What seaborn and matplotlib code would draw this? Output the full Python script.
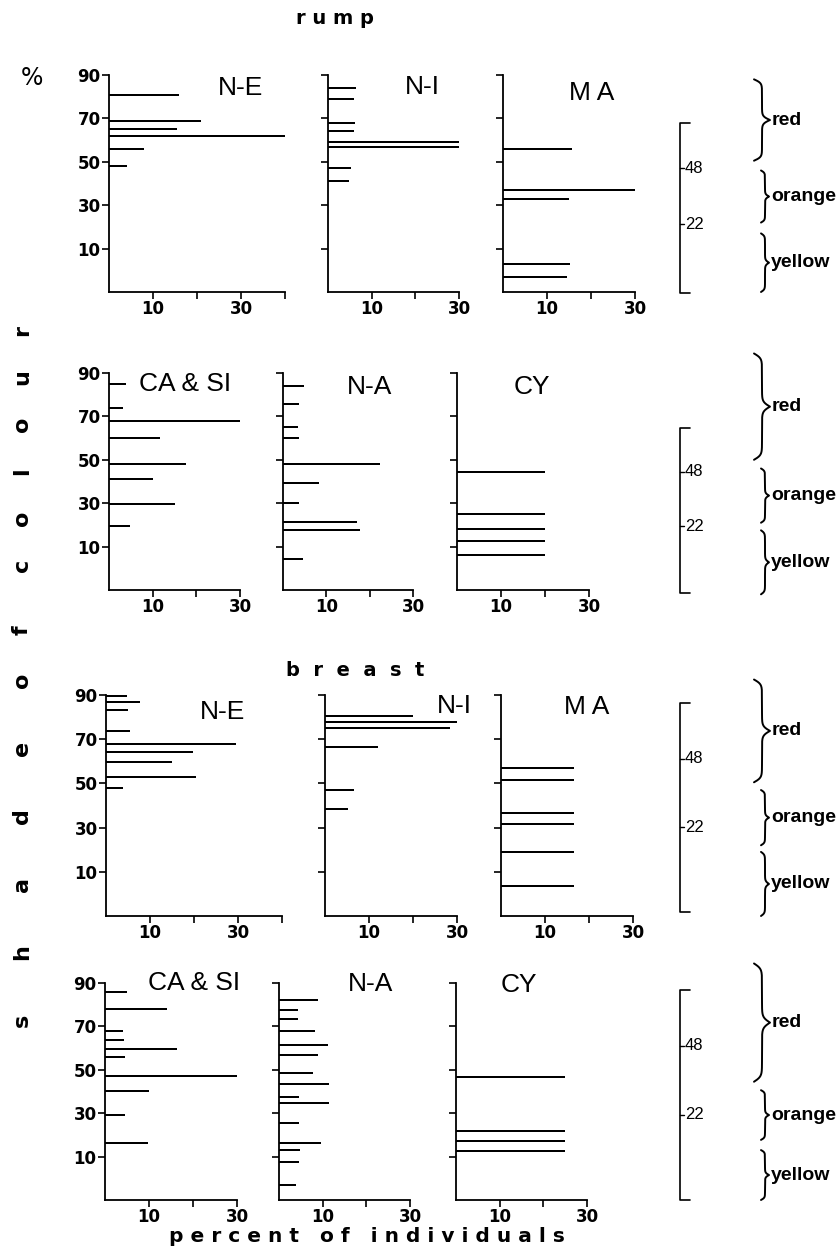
import numpy as np
import pandas as pd
import matplotlib
matplotlib.use("Agg")
import matplotlib.pyplot as plt
import seaborn as sns

# ---- shade of colour (%) and percent of individuals, per population ----
rump_ne_shade = [81, 69, 65, 62, 56, 48]
rump_ne_pct = [16, 21, 15.5, 42, 8, 4]
rump_ni_shade = [84, 79, 68, 64, 59, 57, 47, 41]
rump_ni_pct = [6.5, 6, 6.2, 6, 30.4, 30.2, 5.3, 4.9]
rump_ma_shade = [56, 37, 33, 3, -3]
rump_ma_pct = [15.7, 34.6, 15.1, 15.2, 14.6]
rump_casi_shade = [85, 74, 68, 60, 48, 41, 29.5, 19.5]
rump_casi_pct = [4, 3.2, 30.1, 11.6, 17.7, 10.1, 15.2, 4.7]
rump_na_shade = [84, 75.5, 65, 60, 48, 39.5, 30, 21.5, 17.5, 4.5]
rump_na_pct = [4.8, 3.8, 3.4, 3.6, 22.3, 8.2, 3.6, 17, 17.7, 4.5]
rump_cy_shade = [44.5, 25, 18, 12.5, 6]
rump_cy_pct = [20, 20, 20, 20, 20]

breast_ne_shade = [89.5, 87, 83, 73.5, 68, 64, 59.7, 52.7, 48]
breast_ne_pct = [4.7, 7.7, 5, 5.4, 29.5, 19.8, 15, 20.4, 3.8]
breast_ni_shade = [80.5, 78, 75, 66.5, 47, 38.5]
breast_ni_pct = [19.9, 32.3, 28.5, 12.1, 6.5, 5.2]
breast_ma_shade = [57, 51.5, 36.5, 31.5, 19, 3.5]
breast_ma_pct = [16.7, 16.7, 16.7, 16.7, 16.7, 16.7]
breast_casi_shade = [85.7, 78.2, 68, 63.6, 59.5, 55.7, 47, 40.3, 29, 16.4]
breast_casi_pct = [4.9, 14, 4.2, 4.3, 16.3, 4.5, 30.2, 9.9, 4.6, 9.8]
breast_na_shade = [82.3, 77.7, 73.4, 68, 61.6, 56.7, 48.6, 43.4, 37.4, 34.7,
                   25.6, 16.4, 13.1, 7.7, -3]
breast_na_pct = [8.9, 4.3, 4.4, 8.2, 11.3, 9, 7.9, 11.5, 4.5, 11.4,
                 4.5, 9.6, 4.7, 4.5, 4]
breast_cy_shade = [46.5, 22, 17, 12.5]
breast_cy_pct = [25, 25, 25, 25]

# tick labels
y_ticks = [10, 30, 50, 70, 90]
x_tick_labels = {10: "10", 20: "", 30: "30", 40: ""}

# colour classes on the shade scale
class_names = ["red", "orange", "yellow"]
class_bounds = [48, 22]

sns.set_style("ticks")
plt.rcParams["font.family"] = ["DejaVu Sans"]
plt.rcParams.update({"text.color": "black", "axes.edgecolor": "black",
                     "xtick.color": "black", "ytick.color": "black"})

W, H = 839, 1250
fig = plt.figure(figsize=(W / 100, H / 100), dpi=100)


def fx(x):
    return x / W


def fy(y):
    return 1 - y / H


def add_px_axes(x0, x1, yt, yb):
    return fig.add_axes([fx(x0), fy(yb), (x1 - x0) / W, (yb - yt) / H])


# panel layout in pixels: (x at 0, x at xmax, xmax, title, data, title centre)
rows = [
    dict(yt=75, yb=292, panels=[
        (109, 285, 40, "N-E", rump_ne_shade, rump_ne_pct, 241, 88),
        (328, 459, 30, "N-I", rump_ni_shade, rump_ni_pct, 422, 87),
        (503, 635, 30, "M A", rump_ma_shade, rump_ma_pct, 592, 93)]),
    dict(yt=373, yb=590, panels=[
        (109, 240, 30, "CA & SI", rump_casi_shade, rump_casi_pct, 185, 384),
        (283, 413, 30, "N-A", rump_na_shade, rump_na_pct, 370, 387),
        (457, 589, 30, "CY", rump_cy_shade, rump_cy_pct, 532, 387)]),
    dict(yt=695, yb=916, panels=[
        (106, 282, 40, "N-E", breast_ne_shade, breast_ne_pct, 223, 712),
        (325, 457, 30, "N-I", breast_ni_shade, breast_ni_pct, 454, 706),
        (501, 633, 30, "M A", breast_ma_shade, breast_ma_pct, 587, 707)]),
    dict(yt=983, yb=1200, panels=[
        (105, 237, 30, "CA & SI", breast_casi_shade, breast_casi_pct, 194, 983),
        (279, 410, 30, "N-A", breast_na_shade, breast_na_pct, 371, 984),
        (456, 587, 30, "CY", breast_cy_shade, breast_cy_pct, 519, 985)]),
]

# brace spans (shade units) and bracket placement per row
brace_spans = [
    [(50.5, 88), (22, 46), (-10, 17)],
    [(50, 99), (21, 46), (-12, 17.5)],
    [(50.5, 97), (22, 47), (-10, 19)],
    [(44.5, 99), (17.7, 40.6), (-10, 13)],
]
bracket_px = [(123, 293), (428, 593), (703, 912), (990, 1200)]

tick_font = dict(family="DejaVu Sans", weight="bold", size=12)

for r, row in enumerate(rows):
    for c, (x0, x1, xmax, title, shade, pct, tx, ty) in enumerate(row["panels"]):
        ax = add_px_axes(x0, x1, row["yt"], row["yb"])
        df = pd.DataFrame({"shade": shade, "pct": pct})
        sns.barplot(data=df, x="pct", y="shade", orient="h", native_scale=True,
                    color="black", errorbar=None, ax=ax, linewidth=0)
        # thin, even line thickness for every bar
        for p in ax.patches:
            cy = p.get_y() + p.get_height() / 2
            p.set_height(0.9)
            p.set_y(cy - 0.45)
        ax.set_xlim(0, xmax)
        ax.set_ylim(-10, 90)
        ax.set_xlabel("")
        ax.set_ylabel("")
        sns.despine(ax=ax)
        for s in ("left", "bottom"):
            ax.spines[s].set_linewidth(1.3)
        xt = [t for t in (10, 20, 30, 40) if t <= xmax]
        ax.set_xticks(xt)
        ax.set_xticklabels([x_tick_labels[t] for t in xt], fontdict=tick_font)
        ax.set_yticks(y_ticks)
        if c == 0:
            ax.set_yticklabels([str(t) for t in y_ticks], fontdict=tick_font)
        else:
            ax.set_yticklabels([])
        ax.tick_params(length=5, width=1.2, pad=1, colors="black")
        fig.text(fx(tx), fy(ty), title, ha="center", va="center",
                 family="Liberation Sans", size=19)

    # colour-class braces, drawn on the row's shade scale
    bax = add_px_axes(590, 839, row["yt"], row["yb"])
    bax.set_xlim(590, 839)
    bax.set_ylim(-10, 90)
    bax.axis("off")
    for k, (name, (lo, hi)) in enumerate(zip(class_names, brace_spans[r])):
        bx0, bw = (754, 16) if k == 0 else (761, 8)
        t = np.linspace(0, 0.5, 300)
        beta = 45
        s = 1 / (1 + np.exp(-beta * t)) + 1 / (1 + np.exp(-beta * (t - 0.5))) - 0.5
        tt = np.concatenate([t, 1 - t[::-1]])
        ss = np.concatenate([s, s[::-1]])
        bax.plot(bx0 + bw * ss, lo + (hi - lo) * tt, color="black", lw=1.4,
                 clip_on=False, solid_capstyle="round")
        bax.text(bx0 + bw + 2, (lo + hi) / 2, name, ha="left", va="center",
                 family="Liberation Sans", weight="bold", size=14, clip_on=False)

    # shade scale bracket with class boundaries
    yt_b, yb_b = bracket_px[r]
    kax = add_px_axes(590, 839, yt_b, yb_b)
    kax.set_xlim(590, 839)
    kax.set_ylim(-10, 69)
    kax.axis("off")
    kax.plot([690, 680, 680, 690], [69, 69, -10, -10], color="black", lw=1.2,
             clip_on=False)
    for b in class_bounds:
        kax.plot([680, 684], [b, b], color="black", lw=1.0, clip_on=False)
        kax.text(685, b, str(b), ha="left", va="center", family="Liberation Sans",
                 size=12, clip_on=False)

# headings
head = dict(ha="center", va="center", family="DejaVu Sans", weight="bold", size=14)
fig.text(fx(335), fy(18), "r u m p", **head)
fig.text(fx(355), fy(670), "b  r  e  a  s  t", **head)
fig.text(fx(367), fy(1236), "p e r c e n t   o f   i n d i v i d u a l s",
         ha="center", va="center", family="DejaVu Sans", weight="bold", size=14.5)
fig.text(fx(32), fy(78), "%", ha="center", va="center", family="DejaVu Sans", size=17)

# vertical axis title, one letter at a time (reads bottom to top)
shade_word_y = [1020, 952, 884, 816, 748]
of_word_y = [680, 630]
colour_word_y = [565, 518, 471, 424, 377, 330]
for word, ys in (("shade", shade_word_y), ("of", of_word_y), ("colour", colour_word_y)):
    for ch, y in zip(word, ys):
        fig.text(fx(22), fy(y), ch, rotation=90, ha="center", va="center",
                 family="DejaVu Sans", weight="bold", size=16)

fig.savefig("out.png", dpi=100)
